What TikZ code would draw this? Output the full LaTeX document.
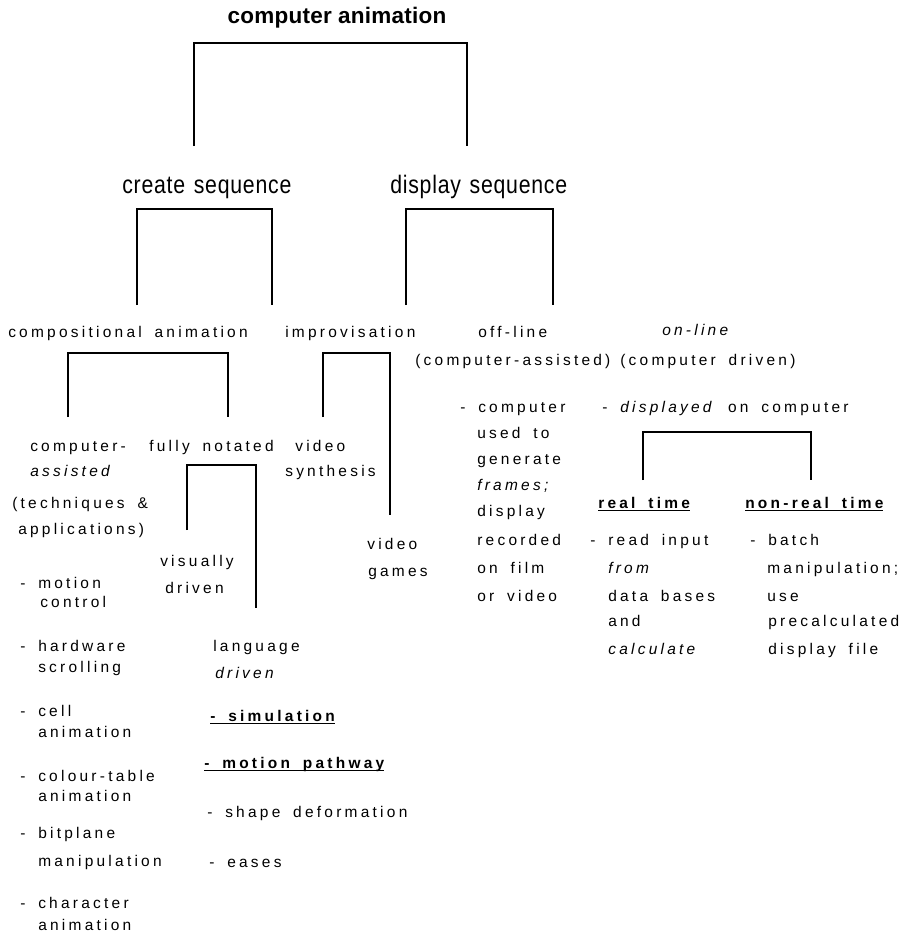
\documentclass[tikz,border=0pt]{standalone}
\usepackage{fontspec}
\setmainfont{Liberation Sans}[LetterSpace=21,WordSpace=1.7]
\newfontfamily\titlefont{Liberation Sans}[LetterSpace=1]
\newfontfamily\headfont{Liberation Sans}[FakeStretch=0.84,LetterSpace=3,WordSpace=1.3]
% bold text with a heavy rule under it
\newcommand\ulbold[1]{\setbox0\hbox{\bfseries #1}\rlap{\rule[-2.4pt]{\wd0}{1.1pt}}\box0}

\begin{document}
\begin{tikzpicture}[x=0.025cm,y=-0.025cm,
	txt/.style={anchor=base west,inner sep=0pt,font=\fontsize{11}{13}\selectfont},
	head/.style={anchor=base west,inner sep=0pt,font=\headfont\fontsize{18}{20}\selectfont},
	leg/.style={line width=0.8pt}]
	\useasboundingbox (0,0) rectangle (903,935);

	% first two levels
	\node[anchor=base,inner sep=0pt,font=\titlefont\bfseries\fontsize{16}{18}\selectfont] (ca) at (337,23) {computer animation};
	\node[head] (cs) at (122,193) {create sequence};
	\node[head] (ds) at (390,193) {display sequence};

	\node[txt] (comp) at (8,337) {compositional animation};
	\node[txt] (impr) at (285,337) {improvisation};
	\node[txt] (offl) at (478,337) {off-line};
	\node[txt] (onl) at (662,335) {\itshape on-line};
	\node[txt] (offl2) at (415,365) {(computer-assisted)};
	\node[txt] (onl2) at (620,365) {(computer driven)};

	% brackets
	\coordinate (b1l) at (194,146); \coordinate (b1t) at (467,43);  \coordinate (b1r) at (467,146);
	\coordinate (b2l) at (137,305); \coordinate (b2t) at (272,209); \coordinate (b2r) at (272,305);
	\coordinate (b3l) at (406,305); \coordinate (b3t) at (553,209); \coordinate (b3r) at (553,305);
	\coordinate (b4l) at (68,417);  \coordinate (b4t) at (228,353); \coordinate (b4r) at (228,417);
	\coordinate (b5l) at (323,417); \coordinate (b5t) at (390,353); \coordinate (b5r) at (390,515);
	\coordinate (b6l) at (187,530); \coordinate (b6t) at (256,465); \coordinate (b6r) at (256,608);
	\coordinate (b7l) at (643,480); \coordinate (b7t) at (811,432); \coordinate (b7r) at (811,480);

	\draw[leg] (b1l) |- (b1t) -- (b1r);
	\draw[leg] (b2l) |- (b2t) -- (b2r);
	\draw[leg] (b3l) |- (b3t) -- (b3r);
	\draw[leg] (b4l) |- (b4t) -- (b4r);
	\draw[leg] (b5l) |- (b5t) -- (b5r);
	\draw[leg] (b6l) |- (b6t) -- (b6r);
	\draw[leg] (b7l) |- (b7t) -- (b7r);

	% compositional animation
	\node[txt] (ca1) at (30,451) {computer-};
	\node[txt] (ca2) at (30,476) {\itshape assisted};
	\node[txt] (ca3) at (12,508) {(techniques \&};
	\node[txt] (ca4) at (18,534) {applications)};
	\node[txt] (fn) at (149,451) {fully notated};
	\node[txt] (vs1) at (295,451) {video};
	\node[txt] (vs2) at (285,476) {synthesis};
	\node[txt] (vg1) at (367,549) {video};
	\node[txt] (vg2) at (368,576) {games};
	\node[txt] (vd1) at (160,566) {visually};
	\node[txt] (vd2) at (165,593) {driven};

	\node[txt] (mc1) at (20,588) {- motion};
	\node[txt] (mc2) at (40,607) {control};
	\node[txt] (hs1) at (20,651) {- hardware};
	\node[txt] (hs2) at (38,672) {scrolling};
	\node[txt] (cl1) at (20,716) {- cell};
	\node[txt] (cl2) at (38,737) {animation};
	\node[txt] (ct1) at (20,781) {- colour-table};
	\node[txt] (ct2) at (38,801) {animation};
	\node[txt] (bp1) at (20,838) {- bitplane};
	\node[txt] (bp2) at (38,866) {manipulation};
	\node[txt] (ch1) at (20,908) {- character};
	\node[txt] (ch2) at (38,930) {animation};

	\node[txt] (ld1) at (213,651) {language};
	\node[txt] (ld2) at (215,678) {\itshape driven};
	\node[txt] (sim) at (210,721) {\ulbold{- simulation}};
	\node[txt] (mp) at (204,768) {\ulbold{- motion pathway}};
	\node[txt] (sd) at (207,817) {- shape deformation};
	\node[txt] (es) at (209,867) {- eases};

	% off-line
	\node[txt] (of1) at (460,412) {- computer};
	\node[txt] (of2) at (477,438) {used to};
	\node[txt] (of3) at (477,464) {generate};
	\node[txt] (of4) at (477,490) {\itshape frames;};
	\node[txt] (of5) at (477,516) {display};
	\node[txt] (of6) at (477,545) {recorded};
	\node[txt] (of7) at (477,573) {on film};
	\node[txt] (of8) at (477,601) {or video};

	% on-line
	\node[txt] (dc) at (602,412) {- \textit{displayed} on computer};
	\node[txt] (rt) at (598,508) {\ulbold{real time}};
	\node[txt] (nrt) at (745,508) {\ulbold{non-real time}};
	\node[txt] (rt1) at (590,545) {- read input};
	\node[txt] (rt2) at (608,573) {\itshape from};
	\node[txt] (rt3) at (608,601) {data bases};
	\node[txt] (rt4) at (608,626) {and};
	\node[txt] (rt5) at (608,654) {\itshape calculate};
	\node[txt] (nr1) at (750,545) {- batch};
	\node[txt] (nr2) at (767,573) {manipulation;};
	\node[txt] (nr3) at (767,601) {use};
	\node[txt] (nr4) at (768,626) {precalculated};
	\node[txt] (nr5) at (768,654) {display file};
\end{tikzpicture}
\end{document}
